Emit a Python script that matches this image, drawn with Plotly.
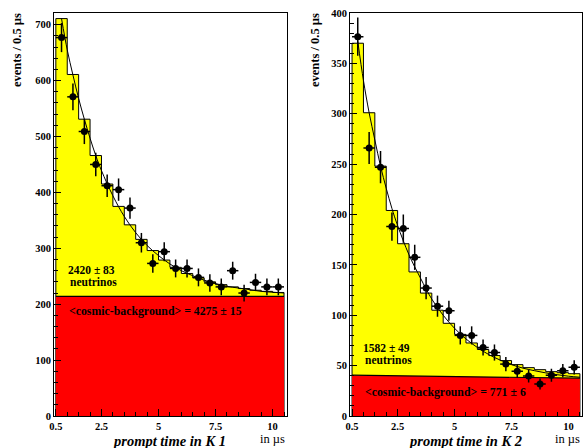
import plotly.graph_objects as go

# ---------------- data ----------------
bin_edges = [0.5, 1.0, 1.5, 2.0, 2.5, 3.0, 3.5, 4.0, 4.5, 5.0, 5.5,
             6.0, 6.5, 7.0, 7.5, 8.0, 8.5, 9.0, 9.5, 10.0, 10.5]
bin_centers = [0.75, 1.25, 1.75, 2.25, 2.75, 3.25, 3.75, 4.25, 4.75, 5.25,
               5.75, 6.25, 6.75, 7.25, 7.75, 8.25, 8.75, 9.25, 9.75, 10.25]

# K1 panel
k1_fit_hist = [711, 611, 531, 466, 415, 375, 342, 316, 296, 279,
               266, 255, 247, 240, 235, 231, 228, 225, 223, 221]
k1_data = [677, 571, 509, 450, 412, 405, 372, 310, 273, 294,
           264, 264, 248, 238, 231, 260, 220, 239, 231, 231]
k1_err = [26, 24, 22.5, 21, 20, 20, 19, 17.5, 16.5, 17,
          16, 16, 16, 15.5, 15, 16, 15, 15.5, 15, 15]
k1_bkg_t = [0.5, 10.5]
k1_bkg_v = [214, 214]
k1_curve_t = [0.75, 1.0, 1.25, 1.5, 1.75, 2.0, 2.25, 2.5, 3.0, 3.5, 4.0, 4.5,
              5.0, 5.5, 6.0, 6.5, 7.0, 7.5, 8.0, 8.5, 9.0, 9.5, 10.0, 10.5]
k1_curve_v = [711, 655, 610, 568, 531, 497, 466, 439, 394, 357, 328, 305,
              287, 272, 260, 251, 243, 237, 232, 229, 226, 223, 221.5, 220]

# K2 panel
k2_fit_hist = [370, 301, 248, 204, 171, 143, 122, 105, 92, 81,
               72.5, 66, 60, 55, 51, 48, 46, 44, 43, 42]
k2_data = [376.5, 266, 247, 188, 186, 157.5, 127, 109, 104.5, 80,
           80, 68, 63, 51.5, 44.5, 39.7, 31.8, 40.5, 45, 48.3]
k2_err = [19, 16, 16, 14, 14, 12.5, 11, 10.5, 10, 9,
          9, 8, 8, 7, 6.5, 6.5, 5.5, 6.5, 6.5, 7]
k2_bkg_t = [0.5, 10.5]
k2_bkg_v = [40.5, 37.5]
k2_curve_t = [0.75, 1.0, 1.25, 1.5, 1.75, 2.0, 2.25, 2.5, 3.0, 3.5, 4.0, 4.5,
              5.0, 5.5, 6.0, 6.5, 7.0, 7.5, 8.0, 8.5, 9.0, 9.5, 10.0, 10.5]
k2_curve_v = [372, 333, 301, 274, 248, 226, 206, 189, 160, 137, 116, 100,
              87, 76.5, 68, 61, 55.5, 51, 47.5, 45, 42.8, 41, 39.5, 38.5]

x_tickvals = [0.5, 2.5, 5, 7.5, 10]
x_ticktext = ["0.5", "2.5", "5", "7.5", "10"]
x_minorvals = [1.0, 1.5, 2.0, 3.0, 3.5, 4.0, 4.5, 5.5, 6.0, 6.5, 7.0,
               8.0, 8.5, 9.0, 9.5, 10.5]

# ---------------- figure ----------------
W, H = 583, 448
FONT = "Liberation Serif"

def px(x):
    return x / W

def py(y):
    return 1 - y / H

fig = go.Figure()

def add_panel(xa, ya, hist, data, err, bkg_t, bkg_v, curve_t, curve_v):
    # yellow fitted histogram (signal + background)
    sx = [bin_edges[0]] + bin_edges + [bin_edges[-1]]
    sy = [0] + hist + [hist[-1]] + [0]
    fig.add_trace(go.Scatter(x=sx, y=sy, mode="lines", line=dict(color="black", width=1, shape="hv"),
                             fill="tozeroy", fillcolor="#FFFF00", xaxis=xa, yaxis=ya,
                             hoverinfo="skip"))
    # red background
    fig.add_trace(go.Scatter(x=bkg_t, y=bkg_v, mode="lines", line=dict(color="black", width=1.2),
                             fill="tozeroy", fillcolor="#FF0000", xaxis=xa, yaxis=ya,
                             hoverinfo="skip"))
    # fit curve
    fig.add_trace(go.Scatter(x=curve_t, y=curve_v, mode="lines",
                             line=dict(color="black", width=1, shape="spline"),
                             xaxis=xa, yaxis=ya, hoverinfo="skip"))
    # data points
    fig.add_trace(go.Scatter(x=bin_centers, y=data, mode="markers",
                             marker=dict(color="black", size=7),
                             error_y=dict(type="data", array=err, color="black", thickness=1.5, width=0),
                             error_x=dict(type="constant", value=0.25, color="black", thickness=1.5, width=0),
                             xaxis=xa, yaxis=ya))

add_panel("x", "y", k1_fit_hist, k1_data, k1_err, k1_bkg_t, k1_bkg_v, k1_curve_t, k1_curve_v)
add_panel("x2", "y2", k2_fit_hist, k2_data, k2_err, k2_bkg_t, k2_bkg_v, k2_curve_t, k2_curve_v)

ydom = [32 / H, 435 / H]
tickfont = dict(family=FONT, size=10.5, color="black", weight="bold")

def xaxis(domain, rng, anchor):
    return dict(domain=domain, range=rng, anchor=anchor, showgrid=False, zeroline=False,
                automargin=False,
                showline=True, linecolor="black", linewidth=1, mirror=True,
                tickmode="array", tickvals=x_tickvals, ticktext=x_ticktext,
                ticks="inside", ticklen=7, tickcolor="black", tickwidth=1,
                minor=dict(tickmode="array", tickvals=x_minorvals, ticks="inside",
                           ticklen=4, tickcolor="black", tickwidth=1),
                tickfont=tickfont)

def yaxis(rng, dtick, mdtick, anchor):
    return dict(domain=ydom, range=rng, anchor=anchor, showgrid=False, zeroline=False,
                automargin=False,
                showline=True, linecolor="black", linewidth=1, mirror=True,
                tickmode="linear", tick0=0, dtick=dtick,
                ticks="inside", ticklen=7, tickcolor="black", tickwidth=1,
                minor=dict(dtick=mdtick, ticks="inside", ticklen=4, tickcolor="black", tickwidth=1),
                tickfont=tickfont)

fig.update_layout(
    width=W, height=H, margin=dict(l=0, r=0, t=0, b=0, autoexpand=False),
    paper_bgcolor="white", plot_bgcolor="white", showlegend=False,
    xaxis=xaxis([54 / W, 287 / W], [0.42, 10.63], "y"),
    yaxis=yaxis([0, 721], 100, 20, "x"),
    xaxis2=xaxis([350 / W, 581.5 / W], [0.41, 10.57], "y2"),
    yaxis2=yaxis([0, 400], 50, 10, "x2"),
)

anns = []

def txt(text, x, y, size=11, xanchor="left", yanchor="middle", angle=0, weight="bold", style="normal"):
    anns.append(dict(text=text, x=px(x), y=py(y), xref="paper", yref="paper", showarrow=False,
                     xanchor=xanchor, yanchor=yanchor, textangle=angle,
                     font=dict(family=FONT, size=size, color="black", weight=weight, style=style)))

# y titles
txt("events / 0.5 µs", 17, 11, size=12.5, xanchor="center", yanchor="top", angle=-90)
txt("events / 0.5 µs", 315, 11, size=12.5, xanchor="center", yanchor="top", angle=-90)
# x titles
txt("prompt time in K 1", 169, 441, size=14.5, xanchor="center", style="italic")
txt("prompt time in K 2", 465, 441, size=14.5, xanchor="center", style="italic")
txt("in µs", 287, 439, size=12.5, xanchor="right", weight="normal")
txt("in µs", 582, 439, size=12.5, xanchor="right", weight="normal")
# panel texts
txt("2420 ± 83", 66, 270, size=11.5)
txt("neutrinos", 68, 282, size=11.5)
txt("&lt;cosmic-background&gt; = 4275 ± 15", 67, 311, size=11.8)
txt("1582 ± 49", 361, 348, size=11.5)
txt("neutrinos", 363, 360, size=11.5)
txt("&lt;cosmic-background&gt; = 771 ± 6", 363, 392, size=11.8)

fig.update_layout(annotations=anns)
fig.write_html("out.html")
